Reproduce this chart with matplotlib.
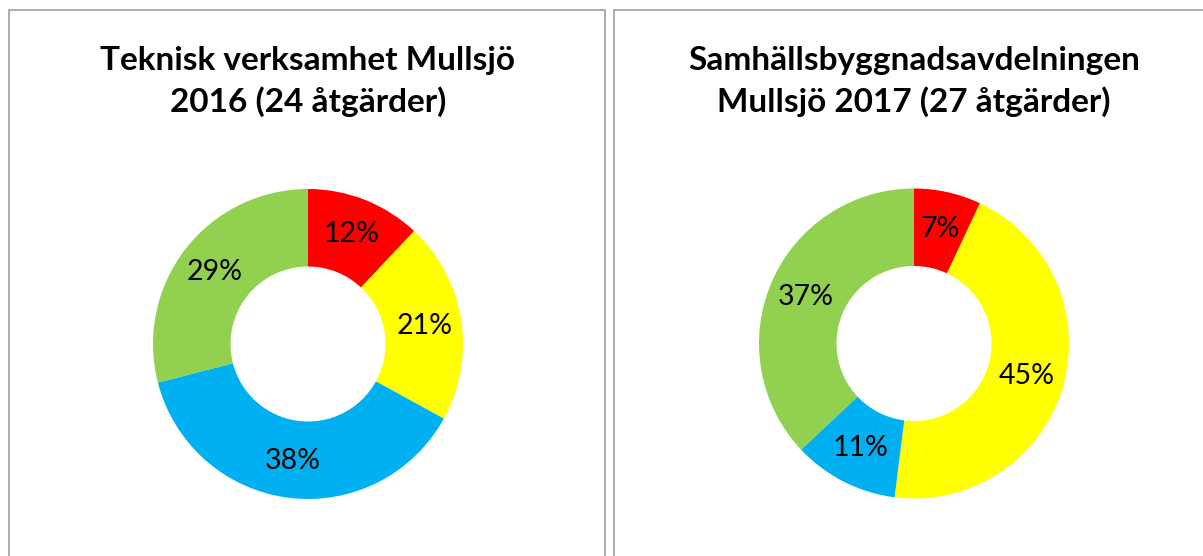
import matplotlib.pyplot as plt
from matplotlib.patches import Rectangle

# data
colors = ["#FF0000", "#FFFF00", "#00B0F0", "#92D050"]
titles = ["Teknisk verksamhet Mullsjö\n2016 (24 åtgärder)",
          "Samhällsbyggnadsavdelningen\nMullsjö 2017 (27 åtgärder)"]
shares_2016 = [12, 21, 38, 29]
shares_2017 = [7, 45, 11, 37]

W, H = 1203, 556
fig = plt.figure(figsize=(W / 100, H / 100), dpi=100)
fig.patch.set_facecolor("white")

# panel frames (bottom edge is cut off in the reference)
for x0, x1 in [(9, 605), (614, 1215)]:
    fig.add_artist(Rectangle((x0 / W, -0.05), (x1 - x0) / W, (H - 10) / H + 0.05,
                             transform=fig.transFigure, fill=False,
                             edgecolor="#a6a6a6", linewidth=1.3))

R = 155
centers = [(308, 344), (914, 343.5)]
for (cx, cy), shares, title in zip(centers, [shares_2016, shares_2017], titles):
    ax = fig.add_axes([(cx - R) / W, (H - cy - R) / H, 2 * R / W, 2 * R / H])
    wedges, _, autotexts = ax.pie(shares, colors=colors, startangle=90, counterclock=False,
                                  autopct=lambda p: f"{p:.0f}%", pctdistance=0.76,
                                  wedgeprops=dict(width=0.5, edgecolor="none"),
                                  textprops=dict(fontsize=20.5, family="Lato", color="black"))
    ax.set_xlim(-1, 1)
    ax.set_ylim(-1, 1)
    fig.text(cx / W, 1 - 81.5 / H, title, ha="center", va="center", fontsize=24,
             fontweight="bold", family="Lato", linespacing=1.42)

fig.savefig("out.png", dpi=100, facecolor="white")
